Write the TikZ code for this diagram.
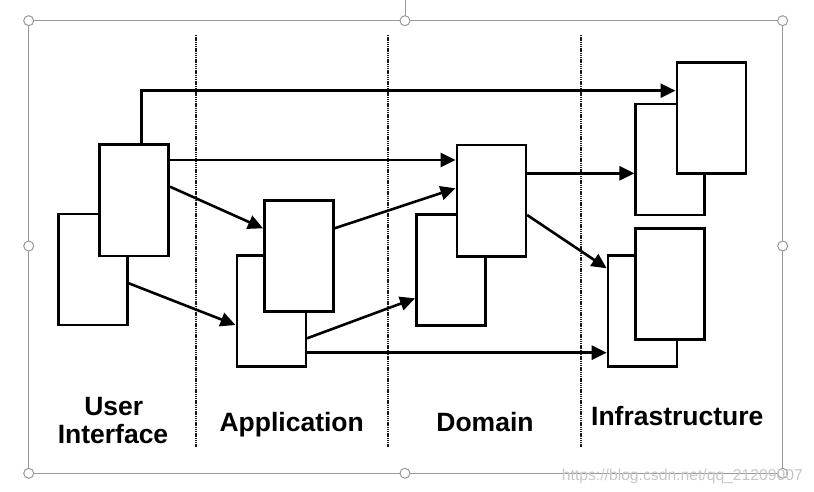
\documentclass[tikz,border=0pt]{standalone}
\usepackage{fontspec}
\setmainfont{Liberation Sans}
\usetikzlibrary{arrows.meta}
\begin{document}
\begin{tikzpicture}[x=1pt,y=-1pt,
  box/.style={draw=black,fill=white,line width=2.6pt,minimum width=69pt,minimum height=111pt,inner sep=0pt},
  arr/.style={line width=2.6pt,-{Triangle[length=15pt,width=14pt]}},
  sep/.style={line width=2.3pt,dash pattern=on 1.4pt off 0.8pt,black!90},
  frame/.style={draw=black!40,line width=1pt},
  handle/.style={circle,draw=black!40,fill=white,line width=1pt,minimum size=10pt,inner sep=0pt},
  lbl/.style={font=\fontsize{26.5}{28.5}\selectfont\bfseries,anchor=base,inner sep=0pt},
  wm/.style={font=\fontsize{15.7}{17}\selectfont,text=black!22,anchor=base west,inner sep=0pt}]
\useasboundingbox (0,0) rectangle (814,492);
\fill[white] (0,0) rectangle (814,492);
% selection frame
\draw[frame] (28.7,20.7) rectangle (782.7,473.3);
\draw[frame] (405,0) -- (405,16);
\foreach \n/\p in {h1/{28.7,20.7},h2/{405,20.7},h3/{782.7,20.7},h4/{28.7,246},h5/{782.7,246},h6/{28.7,473.3},h7/{405,473.3},h8/{782.7,473.3}}
  \node[handle] (\n) at (\p) {};
% layer separators
\coordinate (s1t) at (196,35);   \coordinate (s1b) at (196,446.7);
\coordinate (s2t) at (388.3,35); \coordinate (s2b) at (388.3,446.7);
\coordinate (s3t) at (581.3,35); \coordinate (s3b) at (581.3,446.7);
\draw[sep] (s1t) -- (s1b);
\draw[sep] (s2t) -- (s2b);
\draw[sep] (s3t) -- (s3b);
% boxes
\node[box] (UIb) at (93,269.5) {};
\node[box] (UIf) at (134.2,200.3) {};
\node[box] (APb) at (271.3,310.8) {};
\node[box] (APf) at (298.8,255.8) {};
\node[box] (DOb) at (450.8,269.7) {};
\node[box] (DOf) at (491.3,200.7) {};
\node[box] (ITb) at (670.2,159.5) {};
\node[box] (ITf) at (711.3,117.8) {};
\node[box] (IBb) at (642.5,311.2) {};
\node[box] (IBf) at (670.2,283.7) {};
% connectors
\draw[arr] ([xshift=7.5pt]UIf.north) |- (ITf.west |- 0,90.7);
\draw[arr] (UIf.east |- 0,160) -- (DOf.west |- 0,160);
\draw[arr] (UIf.east |- 0,186.7) -- (APf.west |- 0,228.3);
\draw[arr] (UIb.east |- 0,283.3) -- (APb.west |- 0,325);
\draw[arr] (APf.east |- 0,228.3) -- (DOf.west |- 0,188.3);
\draw[arr] (APb.east |- 0,338.3) -- (DOb.west |- 0,298.3);
\draw[arr] (APb.east |- 0,352.7) -- (IBb.west |- 0,352.7);
\draw[arr] (DOf.east |- 0,173.3) -- (ITb.west |- 0,173.3);
\draw[arr] (DOf.east |- 0,215) -- (IBb.west |- 0,268.3);
% labels
\node[lbl] (l1) at (113.8,415) {User};
\node[lbl] (l2) at (113,443.3) {Interface};
\node[lbl] (l3) at (291.7,431.7) {Application};
\node[lbl] (l4) at (485,431.7) {Domain};
\node[lbl] (l5) at (677.3,425) {Infrastructure};
% watermark
\node[wm] (w) at (561.7,480) {https://blog.csdn.net/qq\_21209007};
\end{tikzpicture}
\end{document}
